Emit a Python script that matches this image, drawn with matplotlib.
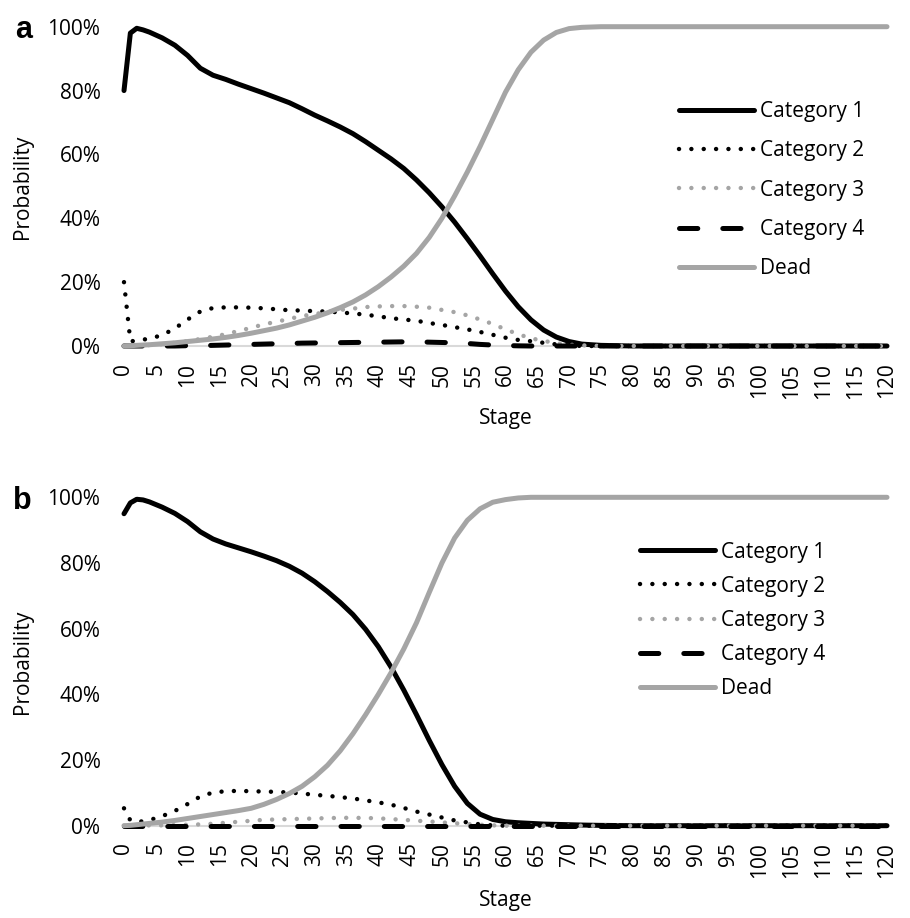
import matplotlib
matplotlib.use("Agg")
import matplotlib.pyplot as plt
from matplotlib.ticker import PercentFormatter

plt.rcParams["font.family"] = ["Open Sans", "DejaVu Sans"]

STAGES = [0, 1, 2, 3, 4,
          6, 8, 10, 12, 14, 16, 18, 20,
          22, 24, 26, 28, 30, 32, 34, 36,
          38, 40, 42, 44, 46, 48, 50, 52,
          54, 56, 58, 60, 62, 64, 66, 68,
          70, 72, 75, 80, 90, 100, 110, 120]

SERIES_NAMES = ["Category 1", "Category 2", "Category 3", "Category 4", "Dead"]

# panel a
A_CAT1 = [80.0, 98.0, 99.5, 99.0, 98.3,
          96.5, 94.2, 91.0, 87.0, 84.8, 83.5, 82.0, 80.6,
          79.2, 77.7, 76.2, 74.3, 72.3, 70.5, 68.6, 66.5,
          64.0, 61.3, 58.6, 55.6, 52.0, 48.0, 43.6, 38.8,
          33.6, 28.2, 22.6, 17.2, 12.3, 8.2, 5.0, 2.8,
          1.4, 0.6, 0.2, 0.0, 0.0, 0.0, 0.0, 0.0]
A_CAT2 = [20.0, 1.5, 1.6, 2.0, 2.3,
          3.4, 5.5, 8.3, 10.8, 11.9, 12.1, 12.1, 12.0,
          11.8, 11.5, 11.2, 11.1, 10.9, 10.8, 10.5, 10.2,
          9.8, 9.3, 8.7, 8.3, 7.9, 7.2, 6.6, 5.9,
          5.2, 4.4, 3.5, 2.6, 1.9, 1.5, 1.0, 0.5,
          0.2, 0.0, 0.0, 0.0, 0.0, 0.0, 0.0, 0.0]
A_CAT3 = [0.0, 0.0, 0.1, 0.2, 0.3,
          0.6, 1.0, 1.5, 2.2, 2.9, 3.7, 4.7, 5.7,
          6.8, 7.6, 8.5, 9.4, 10.0, 10.7, 11.3, 11.7,
          12.2, 12.4, 12.5, 12.5, 12.3, 12.0, 11.3, 10.6,
          9.6, 8.3, 6.9, 5.2, 3.7, 2.4, 1.6, 0.9,
          0.4, 0.2, 0.0, 0.0, 0.0, 0.0, 0.0, 0.0]
A_CAT4 = [0.0, 0.0, 0.0, 0.0, 0.0,
          0.0, 0.0, 0.1, 0.1, 0.2, 0.3, 0.4, 0.5,
          0.6, 0.7, 0.8, 0.9, 0.95, 1.0, 1.05, 1.1,
          1.15, 1.2, 1.25, 1.3, 1.3, 1.2, 1.1, 1.0,
          0.8, 0.5, 0.3, 0.15, 0.05, 0.0, 0.0, 0.0,
          0.0, 0.0, 0.0, 0.0, 0.0, 0.0, 0.0, 0.0]
A_DEAD = [0.0, 0.1, 0.2, 0.3, 0.4,
          0.7, 1.0, 1.4, 1.8, 2.2, 2.7, 3.3, 4.0,
          4.8, 5.6, 6.6, 7.8, 9.0, 10.4, 12.0, 13.8,
          16.0, 18.6, 21.6, 25.0, 29.0, 34.0, 40.0, 47.0,
          54.5, 62.5, 71.0, 79.5, 86.5, 92.0, 95.8, 98.2,
          99.4, 99.8, 100.0, 100.0, 100.0, 100.0, 100.0, 100.0]

# panel b
B_CAT1 = [95.0, 98.3, 99.4, 99.2, 98.6,
          97.0, 95.1, 92.6, 89.5, 87.3, 85.8, 84.6, 83.4,
          82.1, 80.7, 79.0, 76.9, 74.3, 71.3, 68.0, 64.3,
          59.8, 54.5, 48.3, 41.3, 33.8, 26.0, 18.6, 12.0,
          6.8, 3.5, 1.9, 1.2, 0.9, 0.7, 0.5, 0.4,
          0.3, 0.2, 0.1, 0.0, 0.0, 0.0, 0.0, 0.0]
B_CAT2 = [5.3, 1.6, 1.3, 1.3, 1.7,
          2.9, 4.5, 6.6, 8.9, 10.1, 10.5, 10.6, 10.5,
          10.4, 10.3, 10.1, 9.8, 9.4, 9.1, 8.7, 8.3,
          7.7, 7.1, 6.4, 5.4, 4.3, 3.4, 2.5, 1.6,
          1.0, 0.4, 0.1, 0.0, 0.0, 0.0, 0.0, 0.0,
          0.0, 0.0, 0.0, 0.0, 0.0, 0.0, 0.0, 0.0]
B_CAT3 = [0.0, 0.0, 0.0, 0.0, 0.1,
          0.1, 0.2, 0.3, 0.4, 0.6, 0.9, 1.2, 1.5,
          1.8, 1.9, 2.0, 2.1, 2.2, 2.3, 2.4, 2.4,
          2.35, 2.25, 2.0, 1.8, 1.5, 1.3, 1.0, 0.75,
          0.5, 0.3, 0.1, 0.0, 0.0, 0.0, 0.0, 0.0,
          0.0, 0.0, 0.0, 0.0, 0.0, 0.0, 0.0, 0.0]
B_CAT4 = [0.0, 0.0, 0.0, 0.0, 0.0,
          0.0, 0.0, 0.0, 0.0, 0.0, 0.0, 0.0, 0.0,
          0.0, 0.0, 0.0, 0.0, 0.0, 0.0, 0.0, 0.0,
          0.0, 0.0, 0.0, 0.0, 0.0, 0.0, 0.0, 0.0,
          0.0, 0.0, 0.0, 0.0, 0.0, 0.0, 0.0, 0.0,
          0.0, 0.0, 0.0, 0.0, 0.0, 0.0, 0.0, 0.0]
B_DEAD = [0.0, 0.1, 0.3, 0.5, 0.7,
          1.1, 1.6, 2.2, 2.8, 3.4, 4.0, 4.6, 5.3,
          6.5, 8.0, 9.8, 12.0, 14.9, 18.4, 22.8, 28.0,
          33.8, 40.0, 46.6, 53.8, 61.8, 71.0, 80.0, 87.6,
          93.0, 96.5, 98.5, 99.3, 99.8, 100.0, 100.0, 100.0,
          100.0, 100.0, 100.0, 100.0, 100.0, 100.0, 100.0, 100.0]

XTICKS = list(range(0, 121, 5))
YTICKS = [0, 20, 40, 60, 80, 100]

GREY = "#a5a5a5"
AXIS_GREY = "#d9d9d9"
FONT_SIZE = 15

# line width and style per series, in the same order as SERIES_NAMES
STYLES = [
    dict(lw=3.6, color="black", linestyle="-", solid_capstyle="round"),
    dict(lw=3.2, color="black", linestyle=(0, (0.01, 2.77)), dash_capstyle="round"),
    dict(lw=3.2, color=GREY, linestyle=(0, (0.01, 2.77)), dash_capstyle="round"),
    dict(lw=3.6, color="black", linestyle=(0, (3.66, 5.0)), dash_capstyle="round"),
    dict(lw=3.6, color=GREY, linestyle="-", solid_capstyle="round"),
]


def draw_panel(ax, series, legend_anchor, label_spacing):
    """Draw one probability-by-stage panel."""
    for name, values, style in zip(SERIES_NAMES, series, STYLES):
        ax.plot(STAGES, values, label=name, clip_on=False, **style)

    ax.set_xlim(0, 120)
    ax.set_ylim(0, 100)
    ax.set_xticks(XTICKS)
    ax.set_yticks(YTICKS)
    ax.yaxis.set_major_formatter(PercentFormatter(xmax=100, decimals=0))
    ax.tick_params(length=0, labelsize=FONT_SIZE)
    ax.tick_params(axis="y", pad=17)
    ax.tick_params(axis="x", pad=12, labelrotation=90)

    for side in ("top", "right", "left"):
        ax.spines[side].set_visible(False)
    ax.spines["bottom"].set_color(AXIS_GREY)
    ax.spines["bottom"].set_linewidth(1.5)
    ax.spines["bottom"].set_zorder(0)

    ax.set_xlabel("Stage", fontsize=FONT_SIZE)
    ax.set_ylabel("Probability", fontsize=FONT_SIZE)
    ax.xaxis.set_label_coords(0.5, -0.195)
    ax.yaxis.set_label_coords(-0.119, 0.5)

    ax.legend(loc="upper left", bbox_to_anchor=legend_anchor,
              frameon=False, fontsize=FONT_SIZE, handlelength=3.6,
              handletextpad=0.3, labelspacing=label_spacing,
              borderpad=0, borderaxespad=0)


fig = plt.figure(figsize=(9.1, 9.18), dpi=100)
W, H = 910, 918

# axes placed by pixel edges of the plot areas
ax_a = fig.add_axes([124 / W, 1 - 346 / H, 763 / W, 319.3 / H])
ax_b = fig.add_axes([124 / W, 1 - 825.7 / H, 763 / W, 328.4 / H])

draw_panel(ax_a, [A_CAT1, A_CAT2, A_CAT3, A_CAT4, A_DEAD], (0.727, 0.767), 0.88)
draw_panel(ax_b, [B_CAT1, B_CAT2, B_CAT3, B_CAT4, B_DEAD], (0.676, 0.865), 0.63)

fig.text(15 / W, 1 - 30 / H, "a", fontsize=22, fontweight="bold",
         family="Liberation Sans", va="center", ha="left")
fig.text(13 / W, 1 - 501 / H, "b", fontsize=22, fontweight="bold",
         family="Liberation Sans", va="center", ha="left")

fig.savefig("out.png", dpi=100)
